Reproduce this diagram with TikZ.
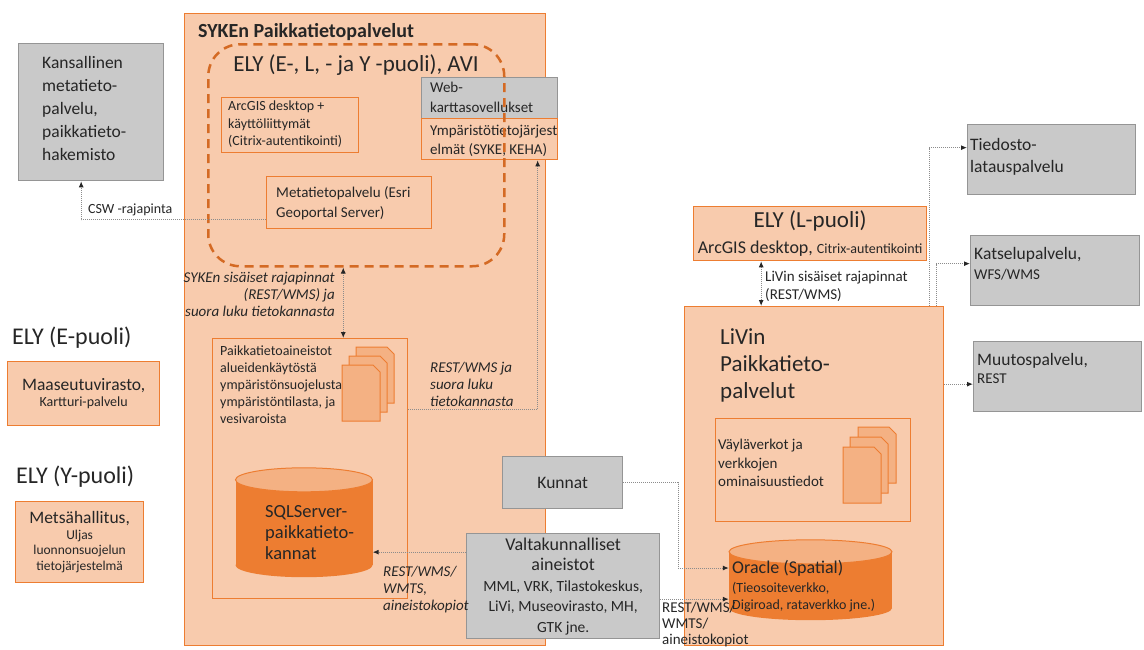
\documentclass[tikz,border=0pt]{standalone}
\usepackage{fontspec}
\setmainfont{Carlito}
\usetikzlibrary{arrows.meta}

\definecolor{olight}{HTML}{F8CBAD}
\definecolor{oline}{HTML}{ED7D31}
\definecolor{odash}{HTML}{D46A24}
\definecolor{otop}{HTML}{F4B183}
\definecolor{gfill}{HTML}{C9C9C9}
\definecolor{gline}{HTML}{959595}
\definecolor{conncol}{HTML}{8C8C8C}
\definecolor{txtcol}{HTML}{262626}

\newcommand{\fsz}[2]{\fontsize{#1}{#2}\selectfont}
% one sheet of a document stack
\newcommand{\docpage}[2]{%
  \draw[docpage] (#1,#2) -- ++(31,0) -- ++(7,7) -- ++(0,49) -- ++(-38,0) -- cycle;}
% ends of a database drum round its body node
\newcommand{\drumends}[3]{%
  \fill[oline] (#1.south) ellipse [x radius=#2, y radius=#3];
  \filldraw[fill=otop, draw=oline, line width=1pt] (#1.north) ellipse [x radius=#2, y radius=#3];}

\tikzset{
  obox/.style={draw=oline, fill=olight, line width=1.3pt, inner sep=0pt, anchor=north west},
  gbox/.style={draw=gline, fill=gfill, line width=1.3pt, inner sep=0pt, anchor=north west},
  drum/.style={fill=oline, inner sep=0pt},
  docpage/.style={draw=oline, fill=otop, line width=1pt},
  conn/.style={draw=conncol, densely dotted, line width=1pt},
  onearrow/.style={conn, -{Latex[length=6pt,width=5pt,color=txtcol]}},
  twoarrow/.style={conn, {Latex[length=6pt,width=5pt,color=txtcol]}-{Latex[length=6pt,width=5pt,color=txtcol]}},
  lbl/.style={inner sep=0pt, anchor=north west, align=left},
}

\begin{document}
\begin{tikzpicture}[x=1pt, y=-1pt, every node/.append style={text=txtcol}]
\useasboundingbox (0,0) rectangle (1144,649);

% SYKE
\node[obox, minimum width=361, minimum height=632] (syke) at (184,13) {};
\node[lbl, anchor=west, font=\bfseries\fsz{20}{24}] (syketitle) at (198,32) {SYKEn Paikkatietopalvelut};

\node[obox, minimum width=137, minimum height=55] (arcgis) at (221,97) {};
\node[lbl, font=\fsz{14}{17.5}] (arcgistext) at (228,101) {ArcGIS desktop +\\käyttöliittymät\\(Citrix-autentikointi)};
\node[obox, minimum width=165, minimum height=52] (meta) at (266,176) {};
\node[lbl, font=\fsz{15}{20}] (metatext) at (276,186) {Metatietopalvelu (Esri\\Geoportal Server)};

\node[gbox, minimum width=136, minimum height=41] (web) at (421,77) {};
\node[lbl, font=\fsz{15}{20}] (webtext) at (430,82) {Web-\\karttasovellukset};
\node[obox, minimum width=136, minimum height=41] (ymp) at (421,118) {};
\node[lbl, font=\fsz{15}{19}] (ymptext) at (430,125) {Ympäristötietojärjest\\elmät (SYKE, KEHA)};

\node[draw=odash, dash pattern=on 9pt off 6pt, line width=2.5pt, rounded corners=32,
  minimum width=296, minimum height=222, inner sep=0pt, anchor=north west] (elyd) at (207,43) {};
\node[font=\fsz{23}{27}] (elytitle) at (356,65) {ELY (E-, L, - ja Y -puoli), AVI};

\node[obox, minimum width=195, minimum height=260] (paik) at (212,338) {};
\node[lbl, font=\fsz{14}{17}] (paiktext) at (220,346) {Paikkatietoaineistot\\alueidenkäytöstä\\ympäristönsuojelusta\\ympäristöntilasta, ja\\vesivaroista};
\docpage{356}{347} \docpage{349}{356} \docpage{342}{365}

\node[drum, minimum width=137, minimum height=85] (sql) at (304,522.5) {};
\drumends{sql}{68.5}{12}
\node[lbl, font=\fsz{18.5}{21}] (sqltext) at (265,505) {SQLServer-\\paikkatieto-\\kannat};

\coordinate (sykeup) at ([xshift=-13]elyd.south);
\draw[twoarrow] (sykeup) -- (sykeup |- paik.north);
\node[lbl, anchor=north east, align=right, font=\itshape\fsz{15}{17}] (sykeif) at (335,272) {SYKEn sisäiset rajapinnat\\(REST/WMS) ja\\suora luku tietokannasta};

\coordinate (paikout) at ([yshift=59]paik.east);
\draw[onearrow] (paikout) -| ([xshift=48]ymp.south);
\node[lbl, font=\itshape\fsz{15}{17}] (restlbl) at (430,362) {REST/WMS ja\\suora luku\\tietokannasta};

% middle
\node[gbox, minimum width=120, minimum height=52, font=\fsz{17.5}{21}] (kunnat) at (502,456) {Kunnat};
\node[gbox, minimum width=193, minimum height=105, align=center, font=\fsz{15.5}{20.5}] (valta) at (466,533)
  {{\fsz{18}{21}Valtakunnalliset}\\{\fsz{18}{21}aineistot}\\MML, VRK, Tilastokeskus,\\LiVi, Museovirasto, MH,\\GTK jne.};

\coordinate (valtasql) at ([yshift=34]valta.west);
\draw[onearrow] (valtasql) -- (valtasql -| sql.east);
\node[lbl, font=\itshape\fsz{15}{17}] (copylbl) at (383,566) {REST/WMS/\\WMTS,\\aineistokopiot};

% LiVi
\node[obox, minimum width=233, minimum height=54, align=center, font=\fsz{18}{26}] (elyl) at (693,206)
  {{\fsz{23}{26}ELY (L-puoli)}\\ArcGIS desktop, {\fsz{14}{26}Citrix-autentikointi}};
\node[obox, minimum width=259, minimum height=339] (livin) at (684,306) {};
\node[lbl, font=\fsz{23}{27}] (livintext) at (720,328) {LiVin\\Paikkatieto-\\palvelut};

\coordinate (livup) at ([xshift=-49]elyl.south);
\draw[twoarrow] (livup) -- (livup |- livin.north);
\node[lbl, font=\fsz{15}{18}] (livif) at (765,271) {LiVin sisäiset rajapinnat\\(REST/WMS)};

\node[obox, minimum width=195, minimum height=103] (vayla) at (715,418) {};
\node[lbl, font=\fsz{15}{18.5}] (vaylatext) at (718,439) {Väyläverkot ja\\verkkojen\\ominaisuustiedot};
\docpage{858}{427} \docpage{850}{437} \docpage{843}{447}

\node[drum, minimum width=163, minimum height=56] (oracle) at (810.5,580) {};
\drumends{oracle}{81.5}{12}
\node[lbl, font=\fsz{14}{17}] (oracletext) at (732,560) {{\fsz{18}{19}Oracle (Spatial)}\\[2pt](Tieosoiteverkko,\\Digiroad, rataverkko jne.)};

\draw[onearrow] (kunnat.east) -- ++(55,0) |- ([yshift=12]oracle.west);
\coordinate (valtaor) at ([yshift=-13]valta.east);
\draw[onearrow] (valtaor) -- (valtaor -| oracle.west);
\node[lbl, font=\fsz{15}{16}] (copylbl2) at (662,602) {REST/WMS/\\WMTS/\\aineistokopiot};

% services
\node[gbox, minimum width=168, minimum height=70] (tied) at (967,124) {};
\node[lbl, font=\fsz{17.5}{22}] (tiedtext) at (970,138) {Tiedosto-\\latauspalvelu};
\node[gbox, minimum width=169, minimum height=70] (kats) at (970,235) {};
\node[lbl, font=\fsz{15}{20}] (katstext) at (974,247) {{\fsz{17.5}{20}Katselupalvelu,}\\WFS/WMS};
\node[gbox, minimum width=168, minimum height=70] (muut) at (973,341) {};
\node[lbl, font=\fsz{15}{18}] (muuttext) at (977,353) {{\fsz{17.5}{18}Muutospalvelu,}\\REST};

\draw[onearrow] ([xshift=115]livin.north) |- ([yshift=12]tied.west);
\draw[onearrow] ([xshift=122]livin.north) |- ([yshift=7]kats.west);
\coordinate (livout) at ([yshift=92]livin.east);
\draw[onearrow] (livout) -- (livout -| muut.west);

% left column
\node[gbox, minimum width=145, minimum height=137] (kansa) at (18,43) {};
\node[lbl, font=\fsz{17.5}{23}] (kansatext) at (42,56) {Kansallinen\\metatieto-\\palvelu,\\paikkatieto-\\hakemisto};
\coordinate (metaout) at ([yshift=-17]meta.west);
\draw[onearrow] (metaout) -| ([xshift=-10]kansa.south);
\node[lbl, anchor=west, font=\fsz{14}{17}] (cswlbl) at (88,210) {CSW -rajapinta};

\node[lbl, anchor=west, font=\fsz{24}{28}] (elye) at (12,338) {ELY (E-puoli)};
\node[obox, minimum width=152, minimum height=64, align=center, font=\fsz{14}{16}] (maas) at (7,361)
  {{\fsz{17.5}{16}Maaseutuvirasto,}\\Kartturi-palvelu};
\node[lbl, anchor=west, font=\fsz{24}{28}] (elyy) at (16,477) {ELY (Y-puoli)};
\node[obox, minimum width=128, minimum height=81, align=center, font=\fsz{13.5}{15.5}] (mets) at (15,501)
  {{\fsz{17.5}{15.5}Metsähallitus,}\\Uljas\\luonnonsuojelun\\tietojärjestelmä};
\end{tikzpicture}
\end{document}
